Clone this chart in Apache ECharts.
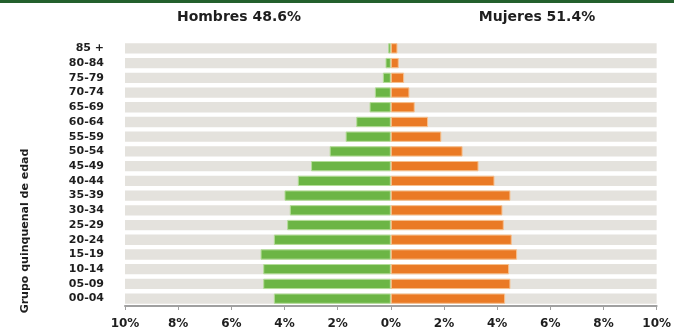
<!DOCTYPE html>
<html>
<head>
<meta charset="utf-8">
<script src="https://cdn.jsdelivr.net/npm/echarts@6/dist/echarts.min.js"></script>
<style>
  html, body { margin: 0; padding: 0; background: #ffffff; }
  #chart { width: 674px; height: 336px; }
</style>
</head>
<body>
<div id="chart"></div>
<script>
// Age groups, youngest at the bottom
const ageGroups = ['00-04', '05-09', '10-14', '15-19', '20-24', '25-29', '30-34', '35-39', '40-44',
  '45-49', '50-54', '55-59', '60-64', '65-69', '70-74', '75-79', '80-84', '85 +'];

// Share of total population (%) per age group
const menPct = [4.4, 4.8, 4.8, 4.9, 4.4, 3.9, 3.8, 4.0, 3.5, 3.0, 2.3, 1.7, 1.3, 0.8, 0.6, 0.3, 0.2, 0.1];
const womenPct = [4.3, 4.5, 4.45, 4.75, 4.55, 4.25, 4.2, 4.5, 3.9, 3.3, 2.7, 1.9, 1.4, 0.9, 0.7, 0.5, 0.3, 0.25];

const menTitle = 'Hombres 48.6%';
const womenTitle = 'Mujeres 51.4%';
const axisTitle = 'Grupo quinquenal de edad';

const FONT = 'DejaVu Sans';

const chart = echarts.init(document.getElementById('chart'), null, { renderer: 'canvas' });

chart.setOption({
  animation: false,
  backgroundColor: '#ffffff',
  grid: { left: 125, right: 16, top: 41, bottom: 30, containLabel: false },
  xAxis: {
    type: 'value',
    min: -10,
    max: 10,
    interval: 2,
    axisLine: { show: true, lineStyle: { color: '#a0a0a0', width: 2 } },
    axisTick: { show: true, length: 4, lineStyle: { color: '#a0a0a0' } },
    splitLine: { show: false },
    axisLabel: {
      margin: 12,
      fontFamily: FONT,
      fontWeight: 'bold',
      fontSize: 12,
      color: '#1e1e1e',
      formatter: v => Math.abs(v) + '%'
    }
  },
  yAxis: {
    type: 'category',
    data: ageGroups,
    axisLine: { show: false },
    axisTick: { show: false },
    axisLabel: {
      margin: 21,
      fontFamily: FONT,
      fontWeight: 'bold',
      fontSize: 11,
      color: '#1e1e1e'
    }
  },
  series: [
    {
      name: 'Hombres',
      type: 'bar',
      data: menPct.map(v => -v),
      barWidth: '70%',
      barGap: '-100%',
      showBackground: true,
      backgroundStyle: { color: '#e4e2dd' },
      itemStyle: { color: '#6cb545', borderColor: '#b4dc98', borderWidth: 1 }
    },
    {
      name: 'Mujeres',
      type: 'bar',
      data: womenPct,
      barWidth: '70%',
      barGap: '-100%',
      itemStyle: { color: '#ea7a25', borderColor: '#f6c08e', borderWidth: 1 }
    }
  ],
  graphic: [
    {
      type: 'rect',
      left: 0, top: 0,
      shape: { width: 674, height: 3 },
      style: { fill: '#23602d' }
    },
    {
      type: 'text',
      x: 239, y: 17,
      style: {
        text: menTitle, fontFamily: FONT, fontWeight: 'bold', fontSize: 14,
        fill: '#1e1e1e', textAlign: 'center', textVerticalAlign: 'middle'
      }
    },
    {
      type: 'text',
      x: 537, y: 17,
      style: {
        text: womenTitle, fontFamily: FONT, fontWeight: 'bold', fontSize: 14,
        fill: '#1e1e1e', textAlign: 'center', textVerticalAlign: 'middle'
      }
    },
    {
      type: 'text',
      x: 25, y: 231,
      rotation: Math.PI / 2,
      style: {
        text: axisTitle, fontFamily: FONT, fontWeight: 'bold', fontSize: 11,
        fill: '#1e1e1e', textAlign: 'center', textVerticalAlign: 'middle'
      }
    }
  ]
});
</script>
</body>
</html>
